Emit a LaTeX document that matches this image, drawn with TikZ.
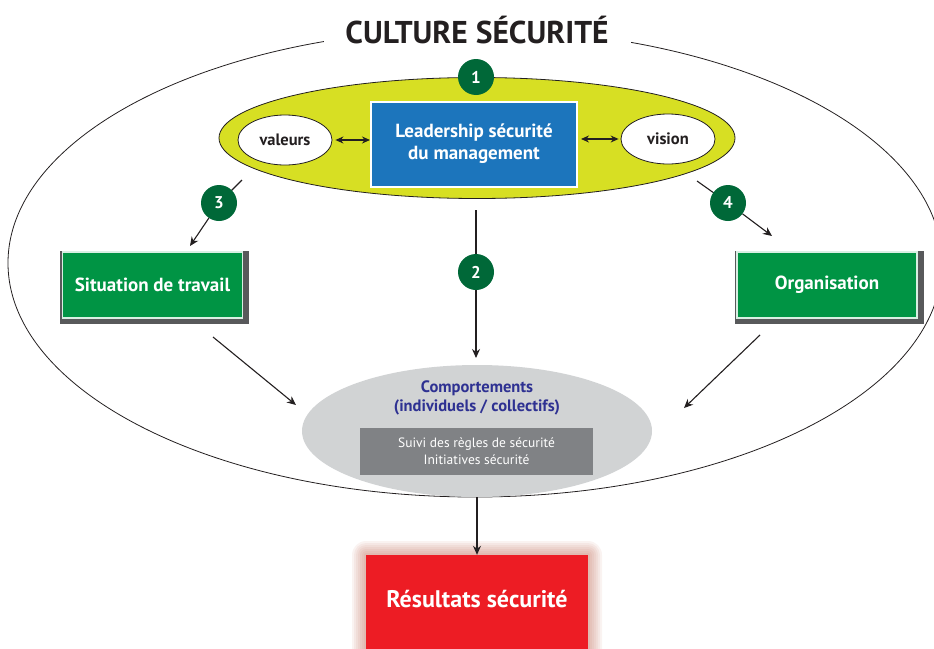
\documentclass[tikz,border=0pt]{standalone}
\usepackage{fontspec}
\setmainfont{PT Sans}
\usetikzlibrary{arrows.meta,shapes.geometric}
\definecolor{yel}{HTML}{D7DF23}
\definecolor{blu}{HTML}{1C75BC}
\definecolor{grn}{HTML}{009444}
\definecolor{dgrn}{HTML}{006838}
\definecolor{shd}{HTML}{58595B}
\definecolor{lgray}{HTML}{D1D3D4}
\definecolor{mgray}{HTML}{808285}
\definecolor{navy}{HTML}{2E3192}
\definecolor{rd}{HTML}{ED1C24}
\definecolor{ink}{HTML}{231F20}
\definecolor{glow}{HTML}{B5533C}
\tikzset{
  fs/.style={font=\fontsize{#1}{#1}\selectfont\bfseries},
  num/.style={circle, fill=dgrn, minimum size=36pt, inner sep=0pt, text=white, fs=17},
  smallell/.style={ellipse, draw=ink, line width=0.8pt, fill=white, minimum width=94pt, minimum height=50pt, inner sep=0pt, fs=16.5, text=ink},
  shadowbox/.style={fill=shd, minimum width=189pt, minimum height=73pt, inner sep=0pt},
  greenbox/.style={fill=grn, draw=white!85!grn, line width=1.5pt, minimum width=180pt, minimum height=66pt, inner sep=0pt, text=white, fs=19},
  arr/.style={-{Stealth[length=9pt,width=8pt]}, line width=1.1pt, draw=ink},
  dbl/.style={{Stealth[length=8pt,width=7pt]}-{Stealth[length=8pt,width=7pt]}, line width=1.2pt, draw=ink},
  ln/.style={line width=1.1pt, draw=ink},
}
\begin{document}
\begin{tikzpicture}[x=1pt,y=-1pt]
\useasboundingbox (0,0) rectangle (934,648);
% outer culture ellipse
\node[ellipse, draw=ink, line width=0.8pt, minimum width=934pt, minimum height=468pt, inner sep=0pt] (cult) at (475,263) {};
\node[fill=white, minimum width=307pt, minimum height=30pt, inner sep=0pt, fs=31.5, text=ink] (title) at (477,30) {CULTURE SÉCURITÉ};
% yellow leadership ellipse
\node[ellipse, draw=ink, line width=0.8pt, fill=yel, minimum width=516pt, minimum height=121pt, inner sep=0pt] (lead) at (477,138) {};
\node[num] (n1) at (476,77) {1};
\node[fill=blu, draw=white, line width=2pt, minimum width=206pt, minimum height=85pt, inner sep=0pt, text=white, fs=19, align=center] (lb) at (474,144) {Leadership sécurité\\[3pt]du management};
\node[smallell] (val) at (285,140) {valeurs};
\node[smallell] (vis) at (668,139) {vision};
\draw[dbl] (val.east) ++(3,0) coordinate (va) -- (lb.west |- va) coordinate (vb);
\draw[dbl] (lb.east |- vis.west) ++(3,0) coordinate (vc) -- ([xshift=-2pt]vis.west) coordinate (vd);
% side boxes
\node[shadowbox] (sitS) at (154.5,287.5) {};
\node[greenbox] (sit) at (152.5,285) {Situation de travail};
\node[shadowbox] (orgS) at (829.5,287.5) {};
\node[greenbox] (org) at (827,285) {Organisation};
% numbered connectors
\coordinate (s3) at (242,180);
\coordinate (t3) at (190,246);
\coordinate (s4) at (697,181);
\coordinate (t4) at (772,236);
\coordinate (s2) at (476,210);
\coordinate (t2) at (476,358);
\draw[ln] (s3) -- (219,203);
\draw[ln] (s4) -- (728,203);
\draw[ln] (s2) -- (476,272);
\node[num] (n3) at (219,203) {3};
\node[num] (n4) at (728,203) {4};
\node[num] (n2) at (476,272) {2};
\draw[arr] (n3) -- (t3);
\draw[arr] (n4) -- (t4);
\draw[arr] (n2) -- (t2);
% comportements
\node[ellipse, fill=lgray, minimum width=350pt, minimum height=132pt, inner sep=0pt] (comp) at (477,431) {};
\node[text=navy, fs=16.5, align=center] (ctitle) at (477,398) {Comportements\\[3pt](individuels / collectifs)};
\node[fill=mgray, minimum width=233pt, minimum height=47pt, inner sep=0pt, text=white, align=center, font=\fontsize{13.5}{17}\selectfont] (cbox) at (476.5,451.5) {Suivi des règles de sécurité\\Initiatives sécurité};
\coordinate (a1) at (213,337);
\coordinate (b1) at (296,405);
\coordinate (a2) at (760,335);
\coordinate (b2) at (684,408);
\draw[arr] (a1) -- (b1);
\draw[arr] (a2) -- (b2);
% results
\foreach \g in {14,12,...,2}{
  \fill[glow, opacity=0.07, rounded corners=\g pt] (366-\g,555-\g) rectangle (588+\g,670);
}
\node[fill=rd, minimum width=222pt, minimum height=110pt, inner sep=0pt] (res) at (477,610) {};
\node[text=white, fs=24] (restxt) at (477,599) {Résultats sécurité};
\draw[arr] (comp.south) -- (res.north);
\end{tikzpicture}
\end{document}
